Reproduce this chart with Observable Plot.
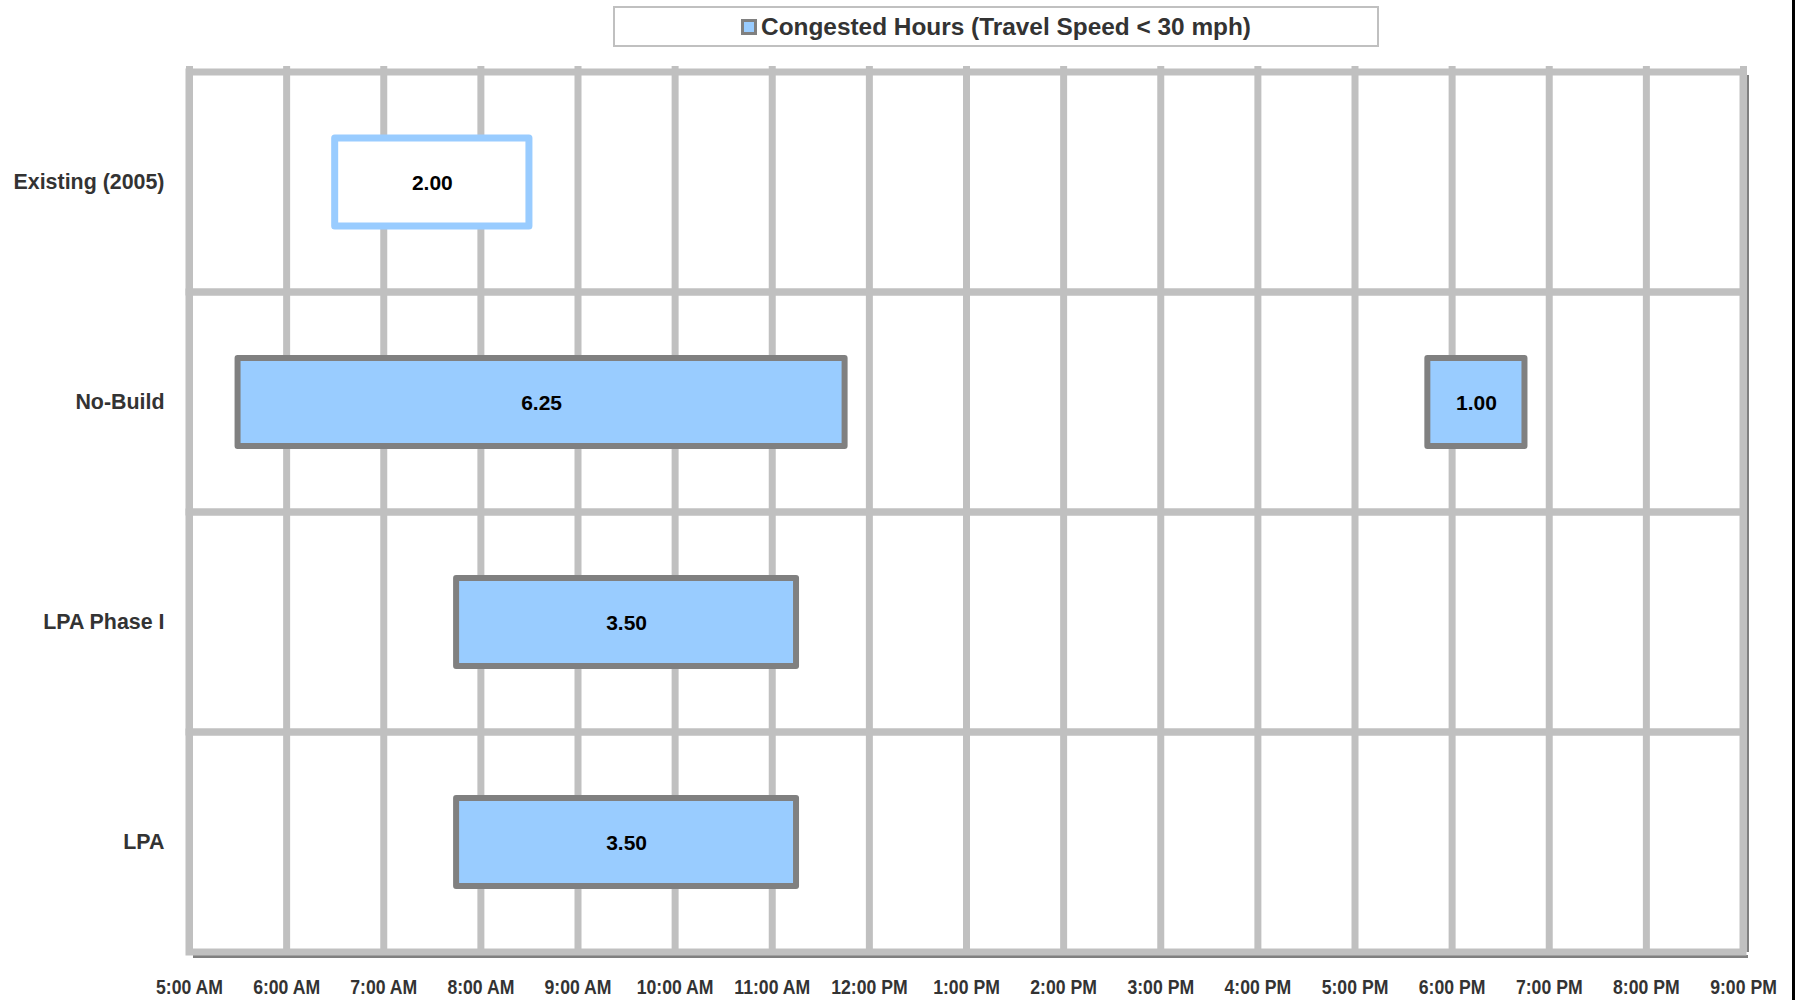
<!DOCTYPE html>
<html>
<head>
<meta charset="utf-8">
<script src="https://cdn.jsdelivr.net/npm/d3@7"></script>
<script src="https://cdn.jsdelivr.net/npm/@observablehq/plot@0.6"></script>
<style>
  html, body { margin: 0; padding: 0; background: #fff; }
  body { width: 1797px; height: 1000px; position: relative; overflow: hidden;
         font-family: "Liberation Sans", Arial, sans-serif; }
  #legend-row { height: 51px; position: relative; }
  #legend { position: absolute; left: 613px; top: 6px; width: 762px; height: 37px;
            border: 2px solid #c0c0c0; display: flex; align-items: center; justify-content: center;
            font-weight: bold; font-size: 24.4px; color: #333; }
  #legend .swatch { width: 10px; height: 10px; background: #99ccff; border: 3px solid #808080;
                    margin-right: 4px; }
  #edge { position: absolute; left: 1792px; top: 0; width: 3px; height: 1000px; background: #000; }
  #chart svg { display: block; }
</style>
</head>
<body>
<div id="legend-row">
  <div id="legend"><span class="swatch"></span><span>Congested Hours (Travel Speed &lt; 30 mph)</span></div>
</div>
<div id="chart"></div>
<div id="edge"></div>
<script>
// Scenarios, top to bottom
const categories = ["Existing (2005)", "No-Build", "LPA Phase I", "LPA"];

// Congested periods: scenario, start hour of day, duration in hours
const periodScenario = ["Existing (2005)", "No-Build", "No-Build", "LPA Phase I", "LPA"];
const periodStart = [6.5, 5.5, 17.75, 7.75, 7.75];
const periodHours = [2.00, 6.25, 1.00, 3.50, 3.50];

// Time axis
const hourTicks = [5, 6, 7, 8, 9, 10, 11, 12, 13, 14, 15, 16, 17, 18, 19, 20, 21];
const hourLabels = ["5:00 AM", "6:00 AM", "7:00 AM", "8:00 AM", "9:00 AM", "10:00 AM", "11:00 AM",
  "12:00 PM", "1:00 PM", "2:00 PM", "3:00 PM", "4:00 PM", "5:00 PM", "6:00 PM", "7:00 PM",
  "8:00 PM", "9:00 PM"];

const periods = periodScenario.map((scenario, i) => ({
  scenario,
  start: periodStart[i],
  hours: periodHours[i],
  end: periodStart[i] + periodHours[i]
}));

const W = 1797, H = 949;
const M = {top: 21, bottom: 48, left: 189, right: 54};
const band = (H - M.top - M.bottom) / categories.length;
const barInset = band * 0.3;

const grid = "#c0c0c0";
const blue = "#99ccff";
const gray = "#808080";

const chart = Plot.plot({
  width: W,
  height: H,
  marginTop: M.top,
  marginBottom: M.bottom,
  marginLeft: M.left,
  marginRight: M.right,
  style: {fontFamily: '"Liberation Sans", Arial, sans-serif', fontWeight: "bold", color: "#333", background: "white"},
  x: {domain: [hourTicks[0], hourTicks[hourTicks.length - 1]], axis: null},
  y: {domain: categories, padding: 0, axis: null},
  marks: [
    // shadow along the right and bottom edges of the plot area
    Plot.ruleX([hourTicks[hourTicks.length - 1]], {x: d => d, stroke: gray, strokeWidth: 3, dx: 4, insetTop: 3}),
    Plot.ruleY([categories[categories.length - 1]], {y: d => d, dy: band / 2 + 4, stroke: gray, strokeWidth: 3, insetLeft: 4, insetRight: -5}),
    // hourly gridlines
    Plot.ruleX(hourTicks, {x: d => d, stroke: grid, strokeWidth: 7, insetTop: -6}),
    // scenario bands
    Plot.barX(categories, {x1: hourTicks[0], x2: hourTicks[hourTicks.length - 1], y: d => d,
      fill: "none", stroke: grid, strokeWidth: 7}),
    // congested periods
    Plot.barX(periods.filter(d => d.scenario === categories[0]), {
      x1: "start", x2: "end", y: "scenario", insetTop: barInset, insetBottom: barInset,
      fill: "white", stroke: blue, strokeWidth: 7, strokeLinejoin: "round"}),
    Plot.barX(periods.filter(d => d.scenario !== categories[0]), {
      x1: "start", x2: "end", y: "scenario", insetTop: barInset, insetBottom: barInset,
      fill: blue, stroke: gray, strokeWidth: 6, strokeLinejoin: "round"}),
    Plot.text(periods, {
      x: d => (d.start + d.end) / 2, y: "scenario", text: d => d.hours.toFixed(2),
      fontSize: 21, fontWeight: "bold", fill: "black", dy: 1, ariaLabel: "bar label"}),
    // axes
    Plot.axisY({tickSize: 0, tickPadding: 25, fontSize: 21.4, fontWeight: "bold", label: null}),
    Plot.axisX({ticks: hourTicks, tickSize: 0, tickPadding: 27, fontSize: 21, fontWeight: "bold",
      tickFormat: d => hourLabels[hourTicks.indexOf(d)], label: null})
  ]
});

document.getElementById("chart").append(chart);

// narrow lettering for the time labels and the duration labels
const condense = (selector, k) => {
  chart.querySelectorAll(selector).forEach(t => {
    const w = t.getComputedTextLength();
    if (w > 0) {
      t.setAttribute("textLength", (w * k).toFixed(1));
      t.setAttribute("lengthAdjust", "spacingAndGlyphs");
    }
  });
};
condense('g[aria-label="x-axis tick label"] text', 0.84);
condense('g[aria-label="bar label"] text', 0.86);
</script>
</body>
</html>
